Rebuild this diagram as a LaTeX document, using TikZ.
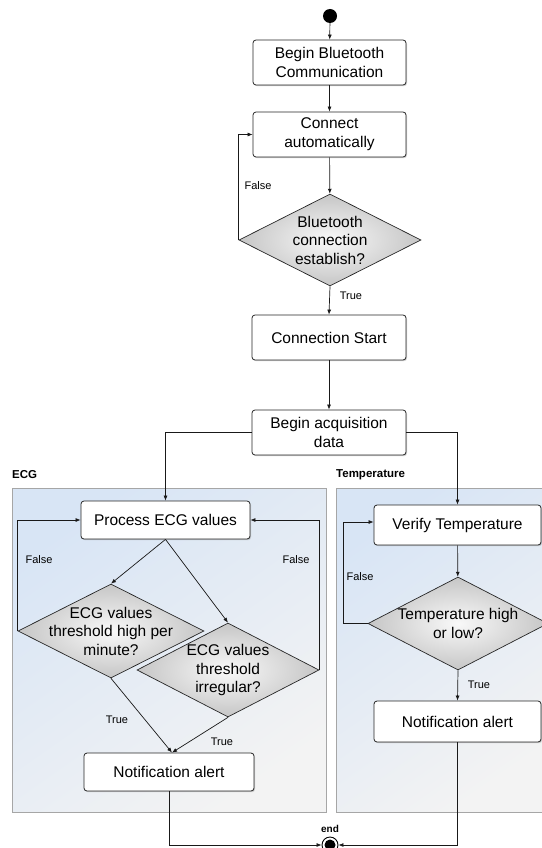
\documentclass[tikz,border=0pt]{standalone}
\usepackage{fontspec}
\setmainfont{Liberation Sans}
\usetikzlibrary{shapes.geometric,shadows,arrows.meta}
\definecolor{pbl}{RGB}{216,229,245}
\definecolor{pgr}{RGB}{243,243,243}
\tikzset{
  box/.style={rectangle, rounded corners=3pt, draw=black!85, line width=0.8pt, fill=white,
    drop shadow={shadow xshift=1pt, shadow yshift=-1.2pt, opacity=0.35},
    align=center, inner sep=2pt, font=\fontsize{15.5}{19}\selectfont},
  dec/.style={diamond, draw=black!85, line width=0.7pt, inner sep=0pt,
    shading=radial, inner color=gray!5, outer color=gray!45},
  dtext/.style={align=center, inner sep=0pt, font=\fontsize{15.5}{18.5}\selectfont},
  panel/.style={draw=gray!70, line width=0.7pt, shading=axis, top color=pbl,
    bottom color=pgr, shading angle=35},
  flow/.style={-{Latex[length=5pt,width=4pt]}, line width=0.7pt, black!90},
  lab/.style={font=\fontsize{11}{13}\selectfont, inner sep=0pt},
  ttl/.style={font=\bfseries\fontsize{11.5}{13}\selectfont, inner sep=0pt, anchor=west},
}
\begin{document}
\begin{tikzpicture}[x=1pt,y=-1pt]
\useasboundingbox (0,0) rectangle (541,848);
\fill[white] (0,0) rectangle (541,848);
% panels
\path[panel] (12,488) rectangle (326,812);
\path[panel] (336,488) rectangle (548,812);
\node[ttl] (ecgt) at (12,475) {ECG};
\node[ttl] (tmpt) at (336,475) {Temperature};
% start
\node[circle, fill=black, minimum size=14pt, inner sep=0pt] (start) at (330,16) {};
\node[box, minimum width=153pt, minimum height=45pt] (b1) at (329.5,62.5) {Begin Bluetooth\\Communication};
\node[box, minimum width=153pt, minimum height=45pt] (b2) at (329.5,134.5) {Connect\\automatically};
\node[dec, minimum width=182pt, minimum height=92pt,
  label={[dtext]center:Bluetooth\\connection\\establish?}] (d0) at (330,240) {};
\node[box, minimum width=154pt, minimum height=45pt] (b3) at (329,337.5) {Connection Start};
\node[box, minimum width=154pt, minimum height=45pt] (b4) at (329,432.5) {Begin acquisition\\data};
% ECG
\node[box, minimum width=169pt, minimum height=38pt] (pe) at (165.5,520) {Process ECG values};
\node[dec, minimum width=186pt, minimum height=94pt,
  label={[dtext]center:ECG values\\threshold high per\\minute?}] (d1) at (111,631) {};
\node[dec, minimum width=182pt, minimum height=94pt,
  label={[dtext]center:ECG values\\threshold\\irregular?}] (d2) at (228,670) {};
\node[box, minimum width=170pt, minimum height=38pt] (ne) at (169,772) {Notification alert};
% Temperature
\node[box, minimum width=167pt, minimum height=40pt] (vt) at (457.5,525) {Verify Temperature};
\node[dec, minimum width=180pt, minimum height=93pt,
  label={[dtext]center:Temperature high\\or low?}] (dt) at (458,623.5) {};
\node[box, minimum width=167pt, minimum height=41pt] (nt) at (457.5,721.5) {Notification alert};
% end
\node[circle, draw=black, line width=0.9pt, fill=white, minimum size=16pt, inner sep=0pt] (end) at (330,845) {};
\node[circle, fill=black, minimum size=11pt, inner sep=0pt] (endin) at (end.center) {};
\node[font=\bfseries\fontsize{10}{12}\selectfont, inner sep=0pt] (endl) at (330,829) {end};
% connectors
\draw[flow] (start) -- (b1);
\draw[flow] (b1) -- (b2);
\draw[flow] (b2) -- (d0);
\draw[flow] (d0.west) |- (b2.west);
\draw[flow] (d0.south) -- (b3.north);
\draw[flow] (b3) -- (b4);
\draw[flow] (b4.west) -| (pe.north);
\draw[flow] (b4.east) -| (vt.north);
\draw[flow] (pe.south) -- (d1.north);
\draw[flow] (pe.south) -- (d2.north);
\draw[flow] (d1.west) |- (pe.west);
\draw[flow] (d2.east) |- (pe.east);
\draw[flow] (d1.south) -- ([xshift=3pt]ne.north);
\draw[flow] (d2.south) -- ([xshift=3pt]ne.north);
\draw[flow] (vt) -- (dt);
\draw[flow] (dt.west) -- ++(-24,0) |- ([yshift=3pt]vt.west);
\draw[flow] (dt.south) -- (nt.north);
\draw[flow] (ne.south) |- (end.west);
\draw[flow] (nt.south) |- (end.east);
% labels
\node[lab] (f0) at (258,186) {False};
\node[lab] (t0) at (351,296) {True};
\node[lab] (f1) at (39,560) {False};
\node[lab] (f2) at (296,560) {False};
\node[lab] (t1) at (117,720) {True};
\node[lab] (t2) at (222,742) {True};
\node[lab] (f3) at (360,577) {False};
\node[lab] (t3) at (479,685) {True};
\end{tikzpicture}
\end{document}
